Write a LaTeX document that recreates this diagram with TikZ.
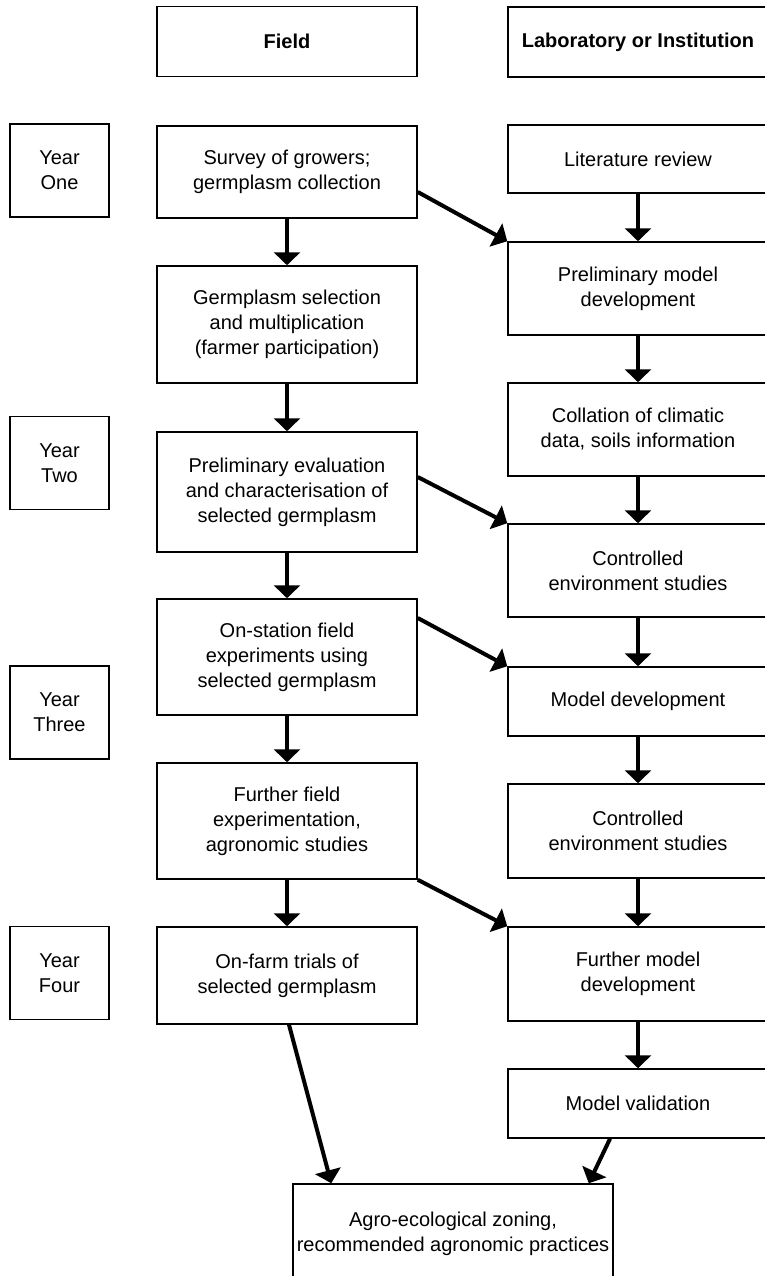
\documentclass[tikz,border=0pt]{standalone}
\usepackage{fontspec}
\setmainfont{Liberation Sans}
\usetikzlibrary{arrows.meta}
\tikzset{
  box/.style={draw, line width=1.5pt, align=center, inner sep=0pt, minimum width=260pt, font=\fontsize{20}{25}\selectfont},
  head/.style={box, minimum height=70pt, font=\fontsize{20}{25}\selectfont\bfseries},
  yrbox/.style={box, minimum width=99pt, minimum height=93pt},
  arr/.style={-{Triangle[width=26pt,length=13pt]}, line width=4pt}
}
\begin{document}
\begin{tikzpicture}[x=1pt,y=-1pt]
    \clip (0,0) rectangle (765,1276);
    \node[head] (field) at (287,41.5) {Field};
    \node[head] (lab) at (638,42) {Laboratory or Institution};
    \node[yrbox] (y1) at (59.5,170.5) {Year\\One};
    \node[yrbox] (y2) at (59.5,463) {Year\\Two};
    \node[yrbox] (y3) at (59.5,712.5) {Year\\Three};
    \node[yrbox] (y4) at (59.5,973) {Year\\Four};
    \node[box, minimum height=92pt] (survey) at (287,172) {Survey of growers;\\germplasm collection};
    \node[box, minimum height=117pt] (gsel) at (287,324.5) {Germplasm selection\\and multiplication\\(farmer participation)};
    \node[box, minimum height=120pt] (preval) at (287,492) {Preliminary evaluation\\and characterisation of\\selected germplasm};
    \node[box, minimum height=116pt] (onst) at (287,657) {On-station field\\experiments using\\selected germplasm};
    \node[box, minimum height=116pt] (furth) at (287,821) {Further field\\experimentation,\\agronomic studies};
    \node[box, minimum height=97pt] (onfarm) at (287,975.5) {On-farm trials of\\selected germplasm};
    \node[box, minimum height=68pt] (lit) at (638,159) {Literature review};
    \node[box, minimum height=93pt] (pmod) at (638,288.5) {Preliminary model\\development};
    \node[box, minimum height=93pt] (coll) at (638,429.5) {Collation of climatic\\data, soils information};
    \node[box, minimum height=93pt] (ces1) at (638,570.5) {Controlled\\environment studies};
    \node[box, minimum height=69pt] (mdev) at (638,701.5) {Model development};
    \node[box, minimum height=94pt] (ces2) at (638,831) {Controlled\\environment studies};
    \node[box, minimum height=94pt] (fmod) at (638,974) {Further model\\development};
    \node[box, minimum height=69pt] (mval) at (638,1103.5) {Model validation};
    \node[box, minimum width=320pt, minimum height=100pt] (agro) at (453,1234) {Agro-ecological zoning,\\recommended agronomic practices};
    \draw[arr] (survey) -- (gsel);
    \draw[arr] (gsel) -- (preval);
    \draw[arr] (preval) -- (onst);
    \draw[arr] (onst) -- (furth);
    \draw[arr] (furth) -- (onfarm);
    \draw[arr] (lit) -- (pmod);
    \draw[arr] (pmod) -- (coll);
    \draw[arr] (coll) -- (ces1);
    \draw[arr] (ces1) -- (mdev);
    \draw[arr] (mdev) -- (ces2);
    \draw[arr] (ces2) -- (fmod);
    \draw[arr] (fmod) -- (mval);
    \draw[arr] ([yshift=-20pt]survey.east) -- (pmod.north west);
    \draw[arr] ([yshift=15pt]preval.east) -- (ces1.north west);
    \draw[arr] ([yshift=39pt]onst.east) -- (mdev.north west);
    \draw[arr] (furth.south east) -- (fmod.north west);
    \draw[arr] ([xshift=2pt]onfarm.south) -- ([xshift=39pt]agro.north west);
    \draw[arr] ([xshift=-28pt]mval.south) -- ([xshift=-25pt]agro.north east);
  \end{tikzpicture}
\end{document}
